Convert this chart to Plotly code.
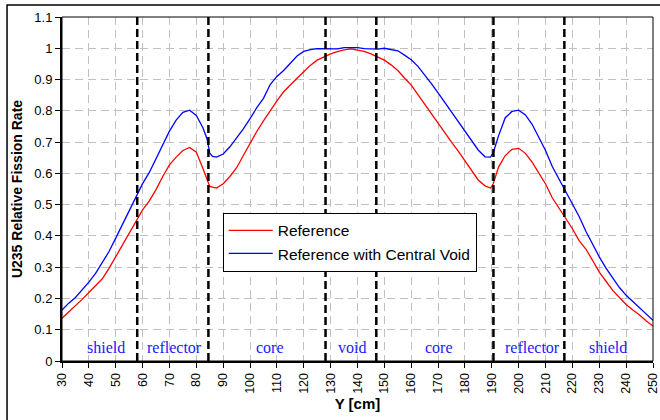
import plotly.graph_objects as go

# ---- data ----
x_ref = [30, 32.5, 35, 37.5, 40, 42.5, 45, 47.5, 50, 52.5, 55, 57.5, 60, 62.5, 65, 67.5, 70, 72.5, 75, 77.5,
         80, 82.5, 84.5, 85, 87.5, 90, 92.5, 95, 97.5, 100, 102.5, 105, 107.5, 110, 112.5, 115, 117.5, 120,
         122.5, 125, 127.5, 130, 132.5, 135, 137.5, 140, 142.5, 145, 147.5, 150, 152.5, 155, 157.5, 160,
         162.5, 165, 167.5, 170, 172.5, 175, 177.5, 180, 182.5, 185, 187.5, 189.5, 190.5, 192.5, 195, 197.5,
         200, 202.5, 205, 207.5, 210, 212.5, 215, 217.5, 220, 222.5, 225, 227.5, 230, 232.5, 235, 237.5,
         240, 242.5, 245, 247.5, 250]
y_ref = [0.137, 0.156, 0.176, 0.197, 0.219, 0.240, 0.263, 0.296, 0.334, 0.370, 0.408, 0.448, 0.483, 0.512,
         0.548, 0.590, 0.627, 0.652, 0.673, 0.683, 0.668, 0.615, 0.568, 0.558, 0.553, 0.567, 0.590, 0.618,
         0.657, 0.697, 0.734, 0.768, 0.802, 0.832, 0.861, 0.884, 0.904, 0.925, 0.946, 0.962, 0.973, 0.982,
         0.989, 0.995, 0.998, 0.995, 0.990, 0.982, 0.973, 0.962, 0.947, 0.929, 0.905, 0.882, 0.852, 0.821,
         0.791, 0.760, 0.731, 0.700, 0.671, 0.640, 0.607, 0.578, 0.560, 0.553, 0.566, 0.620, 0.657, 0.677,
         0.680, 0.664, 0.636, 0.603, 0.566, 0.522, 0.490, 0.457, 0.423, 0.385, 0.358, 0.322, 0.284, 0.255,
         0.226, 0.203, 0.181, 0.163, 0.147, 0.128, 0.112]

x_void = [30, 32.5, 35, 37.5, 40, 42.5, 45, 47.5, 50, 52.5, 55, 57.5, 60, 62.5, 65, 67.5, 70, 72.5, 75, 77.5,
          80, 82.5, 84, 85, 86, 87.5, 90, 92.5, 95, 97.5, 100, 102.5, 105, 107.5, 110, 112.5, 115, 117.5, 120,
          122.5, 125, 127.5, 130, 132.5, 135, 137.5, 140, 142.5, 145, 147.5, 150, 152.5, 155, 157.5, 160,
          162.5, 165, 167.5, 170, 172.5, 175, 177.5, 180, 182.5, 185, 187.5, 189.5, 190.5, 192.5, 195, 197.5,
          200, 202.5, 205, 207.5, 210, 212.5, 215, 217.5, 220, 222.5, 225, 227.5, 230, 232.5, 235, 237.5,
          240, 242.5, 245, 247.5, 250]
y_void = [0.163, 0.185, 0.203, 0.226, 0.252, 0.280, 0.313, 0.350, 0.393, 0.437, 0.483, 0.524, 0.567, 0.603,
          0.647, 0.692, 0.735, 0.770, 0.795, 0.802, 0.785, 0.745, 0.710, 0.665, 0.654, 0.652, 0.662, 0.685,
          0.712, 0.742, 0.775, 0.810, 0.840, 0.884, 0.910, 0.929, 0.952, 0.975, 0.990, 0.996, 0.999, 0.999,
          0.997, 0.998, 1.002, 1.002, 1.002, 0.999, 0.997, 0.997, 1.000, 0.997, 0.992, 0.978, 0.963, 0.942,
          0.915, 0.887, 0.857, 0.827, 0.797, 0.767, 0.737, 0.705, 0.674, 0.653, 0.652, 0.665, 0.720, 0.778,
          0.798, 0.802, 0.787, 0.757, 0.716, 0.673, 0.622, 0.582, 0.545, 0.503, 0.462, 0.415, 0.373, 0.333,
          0.297, 0.265, 0.235, 0.210, 0.190, 0.170, 0.150, 0.130]

boundaries = [58.0, 84.5, 128.1, 147.0, 190.6, 217.0]
region_names = ["shield", "reflector", "core", "void", "core", "reflector", "shield"]
region_x = [46.3, 72.0, 107.5, 137.8, 170.4, 205.0, 233.4]
region_y = 0.043

fig = go.Figure()
fig.add_trace(go.Scatter(x=x_ref, y=y_ref, mode="lines", name="Reference",
                         line=dict(color="#ff0000", width=1.3), legendgroup="a"))
fig.add_trace(go.Scatter(x=x_void, y=y_void, mode="lines", name="Reference with Central Void",
                         line=dict(color="#0000ff", width=1.3), legendgroup="b"))

shapes = []
for b in boundaries:
    shapes.append(dict(type="line", xref="x", yref="paper", x0=b, x1=b, y0=0, y1=1,
                       line=dict(color="black", width=2.5, dash="8px,4px"), layer="above"))
# plot-area border
shapes.append(dict(type="rect", xref="paper", yref="paper", x0=0, x1=1, y0=0, y1=1,
                   line=dict(color="black", width=1), layer="above"))
# chart-area border
shapes.append(dict(type="rect", xref="paper", yref="paper", x0=-0.0930, x1=1.2, y0=-0.3, y1=1.0348,
                   line=dict(color="black", width=1.5), layer="above"))

annotations = []
for name, rx in zip(region_names, region_x):
    annotations.append(dict(x=rx, y=region_y, xref="x", yref="y", text=name, showarrow=False,
                            font=dict(family="Liberation Serif", size=16, color="#2020ff"),
                            xanchor="center", yanchor="middle"))

fig.update_layout(
    width=660, height=420,
    margin=dict(l=62, r=7, t=17, b=58.5, autoexpand=False),
    paper_bgcolor="white", plot_bgcolor="white",
    font=dict(family="Liberation Sans", size=13, color="black"),
    shapes=shapes, annotations=annotations,
    showlegend=True,
    legend=dict(x=0.272, y=0.431, xanchor="left", yanchor="top",
                bgcolor="white", bordercolor="black", borderwidth=1,
                font=dict(family="Liberation Sans", size=15.5, color="black"),
                tracegroupgap=0, itemwidth=44),
)
fig.update_xaxes(range=[30, 250], dtick=10, tick0=30, tickangle=-90, automargin=False,
                 showline=True, linecolor="black", linewidth=2,
                 ticks="outside", ticklen=5, tickcolor="black",
                 ticklabeloverflow="allow",
                 showgrid=True, gridcolor="#c0c0c0", gridwidth=1, griddash="8px,5px",
                 zeroline=False, tickfont=dict(size=12.5),
                 title=dict(text="<b>Y [cm]</b>", font=dict(size=15), standoff=6))
fig.update_yaxes(range=[0, 1.1], dtick=0.1, tick0=0, automargin=False,
                 showline=True, linecolor="black", linewidth=2,
                 ticks="outside", ticklen=5, tickcolor="black",
                 ticklabeloverflow="allow",
                 showgrid=True, gridcolor="#c0c0c0", gridwidth=1, griddash="8px,5px",
                 zeroline=False, tickfont=dict(size=13),
                 title=dict(text="<b>U235 Relative Fission Rate</b>", font=dict(size=14), standoff=8))

fig.write_html("out.html")
